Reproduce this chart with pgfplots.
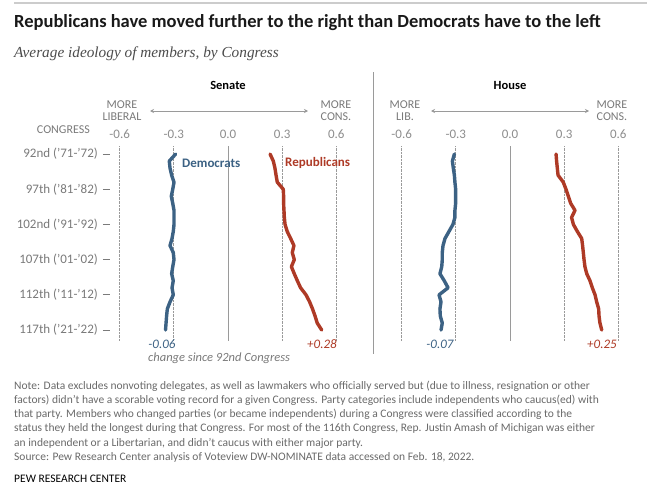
\documentclass[border=0pt]{standalone}
\usepackage{pgfplots}
\pgfplotsset{compat=1.18}
\usetikzlibrary{arrows.meta}
\usepackage{fontspec}
\setmainfont{Carlito}
\newfontfamily\serifit{Liberation Serif}
\definecolor{dem}{HTML}{3C6284}
\definecolor{rep}{HTML}{AE3A26}
\definecolor{tickgray}{HTML}{8E8E8E}
\definecolor{labgray}{HTML}{7A7A7A}
\definecolor{notegray}{HTML}{6A6A6A}
\definecolor{gridgray}{HTML}{9A9A9A}
\pgfplotsset{
  panel/.style={
    scale only axis, width=216.7bp, height=194.3bp,
    xmin=-0.6, xmax=0.6, ymin=90.9, ymax=118.5, y dir=reverse,
    axis line style={draw=none},
    major tick length=0pt,
    xtick={-0.6,-0.3,0.3,0.6},
    xticklabels={-0.6,-0.3,0.3,0.6},
    extra x ticks={0},
    extra x tick labels={0.0},
    extra x tick style={grid=major, major grid style={solid, draw=gridgray, line width=0.9bp}},
    xmajorgrids,
    major grid style={densely dotted, draw=gridgray, line width=0.9bp},
    xticklabel pos=upper,
    x tick label style={font=\fontsize{13bp}{13bp}\selectfont, text=tickgray, anchor=base, inner sep=0pt, yshift=8bp},
    y tick label style={font=\fontsize{13bp}{13bp}\selectfont, text=labgray, anchor=east, inner sep=0pt, xshift=-9.6bp},
    clip=false,
  },
  demline/.style={draw=dem, line width=3.4bp, line join=round, line cap=round},
  repline/.style={draw=rep, line width=3.4bp, line join=round, line cap=round},
}
\newcommand{\dash}{\hspace{5bp}\textcolor{labgray}{\rule[0.28em]{7bp}{0.7bp}}}
\begin{document}
\begin{tikzpicture}
\useasboundingbox (0,0) rectangle (660bp,-495bp);
\fill[white] (0,0) rectangle (660bp,-495bp);
% Senate
\begin{axis}[panel, at={(228bp,-243.45bp)}, anchor=center,
  ytick={92,97,102,107,112,117},
  yticklabels={92nd (’71-’72)\dash, 97th (’81-’82)\dash, 102nd (’91-’92)\dash, 107th (’01-’02)\dash, 112th (’11-’12)\dash, 117th (’21-’22)\dash}]
\addplot[demline] coordinates {
(-0.290,92) (-0.325,93) (-0.321,94) (-0.312,95) (-0.299,96) (-0.306,97) (-0.314,98) (-0.306,99) (-0.299,100) (-0.299,101) (-0.299,102) (-0.303,103) (-0.310,104) (-0.321,105) (-0.303,106) (-0.299,107) (-0.306,108) (-0.312,109) (-0.303,110) (-0.310,111) (-0.303,112) (-0.321,113) (-0.336,114) (-0.340,115) (-0.343,116) (-0.346,117)};
\addplot[repline] coordinates {
(0.233,92) (0.251,93) (0.260,94) (0.266,95) (0.273,96) (0.306,97) (0.308,98) (0.308,99) (0.310,100) (0.312,101) (0.316,102) (0.328,103) (0.347,104) (0.365,105) (0.356,106) (0.367,107) (0.351,108) (0.367,109) (0.384,110) (0.402,111) (0.432,112) (0.452,113) (0.468,114) (0.482,115) (0.494,116) (0.519,117)};
\end{axis}
% House
\begin{axis}[panel, at={(510bp,-243.45bp)}, anchor=center, ytick=\empty]
\addplot[demline] coordinates {
(-0.308,92) (-0.319,93) (-0.314,94) (-0.308,95) (-0.305,96) (-0.301,97) (-0.301,98) (-0.301,99) (-0.305,100) (-0.305,101) (-0.316,102) (-0.338,103) (-0.360,104) (-0.371,105) (-0.375,106) (-0.375,107) (-0.378,108) (-0.388,109) (-0.364,110) (-0.343,111) (-0.393,112) (-0.382,113) (-0.388,114) (-0.386,115) (-0.375,116) (-0.382,117)};
\addplot[repline] coordinates {
(0.255,92) (0.258,93) (0.262,94) (0.266,95) (0.295,96) (0.310,97) (0.323,98) (0.336,99) (0.360,100) (0.341,101) (0.351,102) (0.373,103) (0.397,104) (0.402,105) (0.406,106) (0.410,107) (0.415,108) (0.425,109) (0.443,110) (0.456,111) (0.471,112) (0.480,113) (0.491,114) (0.493,115) (0.498,116) (0.508,117)};
\end{axis}
% annotations
\draw[draw=black!20, line width=1.5bp] (14bp,-3bp) -- (647bp,-3bp);
\node[anchor=base west, inner sep=0pt, text=black!90] at (14bp,-27bp) {\fontsize{18.5bp}{20bp}\selectfont\bfseries Republicans have moved further to the right than Democrats have to the left};
\node[anchor=base west, inner sep=0pt, text=black!70] at (14bp,-57bp) {\serifit\itshape\fontsize{15.3bp}{16bp}\selectfont Average ideology of members, by Congress};
\node[inner sep=0pt, text=black] at (228bp,-85bp) {\fontsize{12.5bp}{13bp}\selectfont\bfseries Senate};
\node[inner sep=0pt, text=black] at (510bp,-85bp) {\fontsize{12.5bp}{13bp}\selectfont\bfseries House};
\draw[draw=gridgray, line width=1bp] (373bp,-72bp) -- (373bp,-354bp);
\begin{scope}[every node/.style={inner sep=0pt, text=labgray, align=center, font=\fontsize{12bp}{12bp}\selectfont}]
\node at (122bp,-111bp) {MORE\\LIBERAL};
\node at (336bp,-111bp) {MORE\\CONS.};
\node at (405bp,-111bp) {MORE\\LIB.};
\node at (612bp,-111bp) {MORE\\CONS.};
\node[anchor=east] at (90bp,-130bp) {CONGRESS};
\end{scope}
\draw[{Stealth[length=4bp,width=4bp]}-{Stealth[length=4bp,width=4bp]}, draw=gridgray, line width=0.8bp] (150bp,-111bp) -- (308bp,-111bp);
\draw[{Stealth[length=4bp,width=4bp]}-{Stealth[length=4bp,width=4bp]}, draw=gridgray, line width=0.8bp] (431bp,-111bp) -- (589bp,-111bp);
\node[anchor=west, inner sep=0pt, text=dem] at (182bp,-163bp) {\fontsize{13bp}{13bp}\selectfont\bfseries Democrats};
\node[anchor=west, inner sep=0pt, text=rep] at (285bp,-163bp) {\fontsize{13bp}{13bp}\selectfont\bfseries Republicans};
\begin{scope}[every node/.style={inner sep=0pt, font=\fontsize{13bp}{13bp}\selectfont\itshape}]
\node[text=dem] at (162bp,-344bp) {-0.06};
\node[text=rep] at (322bp,-344bp) {+0.28};
\node[text=dem] at (440bp,-344bp) {-0.07};
\node[text=rep] at (602bp,-344bp) {+0.25};
\node[anchor=west, text=labgray, font=\fontsize{12.5bp}{13bp}\selectfont\itshape] at (148bp,-358.5bp) {change since 92nd Congress};
\end{scope}
\begin{scope}[every node/.style={anchor=base west, inner sep=0pt, text=notegray, font=\fontsize{11.5bp}{12bp}\selectfont}]
\node at (14bp,-389bp) {Note: Data excludes nonvoting delegates, as well as lawmakers who officially served but (due to illness, resignation or other};
\node at (14bp,-403.3bp) {factors) didn’t have a scorable voting record for a given Congress. Party categories include independents who caucus(ed) with};
\node at (14bp,-417.6bp) {that party. Members who changed parties (or became independents) during a Congress were classified according to the};
\node at (14bp,-431.9bp) {status they held the longest during that Congress. For most of the 116th Congress, Rep. Justin Amash of Michigan was either};
\node at (14bp,-446.2bp) {an independent or a Libertarian, and didn’t caucus with either major party.};
\node at (14bp,-460.5bp) {Source: Pew Research Center analysis of Voteview DW-NOMINATE data accessed on Feb. 18, 2022.};
\node[text=black] at (14bp,-482bp) {PEW RESEARCH CENTER};
\end{scope}
\end{tikzpicture}
\end{document}
